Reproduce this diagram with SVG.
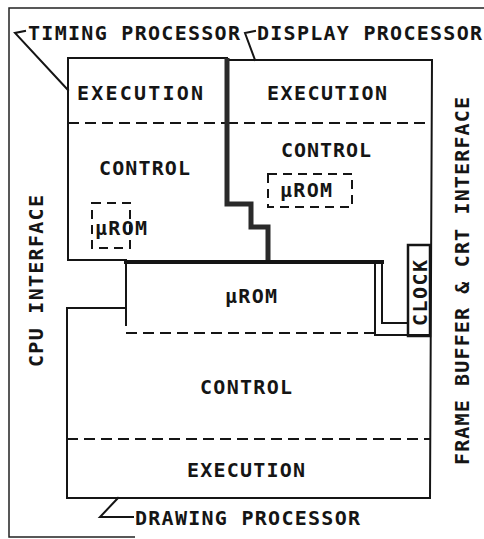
<svg xmlns="http://www.w3.org/2000/svg" width="484" height="539" viewBox="0 0 484 539">
<style>
text{font-family:"DejaVu Sans Mono","Liberation Mono",monospace;font-size:20px;font-weight:bold;fill:#151515}
.ln{fill:none;stroke:#151515;stroke-width:2;stroke-linecap:square}
.thin{fill:none;stroke:#222;stroke-width:1.5}
.thick{fill:none;stroke:#2a2a2a;stroke-width:5;stroke-linejoin:miter}
.dash{fill:none;stroke:#151515;stroke-width:2;stroke-dasharray:11 6}
.sdash{fill:none;stroke:#151515;stroke-width:2;stroke-dasharray:9 6}
</style>
<rect width="484" height="539" fill="#fff"/>
<g id="frame">
<path class="thin" d="M484 8 L9 8 L9 537 L135 537"/>
</g>
<g id="timing-processor">
<path class="ln" d="M68 260 L68 58 L227 58"/>
<path class="ln" d="M68 260 L126 260"/>
<path class="dash" d="M68 123 L227 123"/>
<text x="77" y="100" textLength="126" lengthAdjust="spacing">EXECUTION</text>
<text x="99" y="175" textLength="91" lengthAdjust="spacing">CONTROL</text>
<rect class="sdash" x="92" y="203" width="38" height="45"/>
<text x="95" y="235" textLength="52" lengthAdjust="spacing">μROM</text>
<text x="28" y="40" textLength="212" lengthAdjust="spacing">TIMING PROCESSOR</text>
</g>
<g id="display-processor">
<path class="ln" d="M227 60 L432 60 L430 498"/>
<path class="dash" d="M227 123 L432 123"/>
<text x="267" y="100" textLength="120" lengthAdjust="spacing">EXECUTION</text>
<text x="281" y="157" textLength="90" lengthAdjust="spacing">CONTROL</text>
<rect class="sdash" x="268" y="174" width="84" height="33"/>
<text x="280" y="197" textLength="52" lengthAdjust="spacing">μROM</text>
<text x="257" y="40" textLength="225" lengthAdjust="spacing">DISPLAY PROCESSOR</text>
</g>
<g id="shared-microrom">
<path class="thick" d="M227 58 L227 204 L251 204 L251 227 L268 227 L268 262"/>
<path class="ln" style="stroke-width:4" d="M126 262 L382 262"/>
<path class="ln" d="M126 262 L126 325"/>
<path class="ln" d="M375 262 L375 335 L430 335"/>
<path class="ln" d="M382 262 L382 323 L407 323"/>
<path class="dash" d="M126 333 L375 333"/>
<text x="225" y="303" textLength="52" lengthAdjust="spacing">μROM</text>
</g>
<g id="clock">
<rect x="408" y="245" width="22" height="91" fill="none" stroke="#151515" stroke-width="2.5"/>
<text transform="translate(427 326) rotate(-90)" textLength="66" lengthAdjust="spacing">CLOCK</text>
</g>
<g id="drawing-processor">
<path class="ln" d="M126 308 L67 308 L67 498 L430 498"/>
<path class="dash" d="M67 439 L430 439"/>
<text x="200" y="394" textLength="92" lengthAdjust="spacing">CONTROL</text>
<text x="187" y="477" textLength="118" lengthAdjust="spacing">EXECUTION</text>
<text x="135" y="525" textLength="225" lengthAdjust="spacing">DRAWING PROCESSOR</text>
</g>
<g id="cpu-interface">
<text transform="translate(43 367) rotate(-90)" textLength="172" lengthAdjust="spacing">CPU INTERFACE</text>
</g>
<g id="frame-buffer-crt-interface">
<text transform="translate(469 465) rotate(-90)" textLength="368" lengthAdjust="spacing">FRAME BUFFER &amp; CRT INTERFACE</text>
</g>
<g id="connectors">
<path class="ln" d="M25 31 L15 33 L68 90"/>
<path class="ln" d="M255 31 L245 33 L255 60"/>
<path class="ln" d="M118 498 L100 517 L133 517"/>
</g>
</svg>
